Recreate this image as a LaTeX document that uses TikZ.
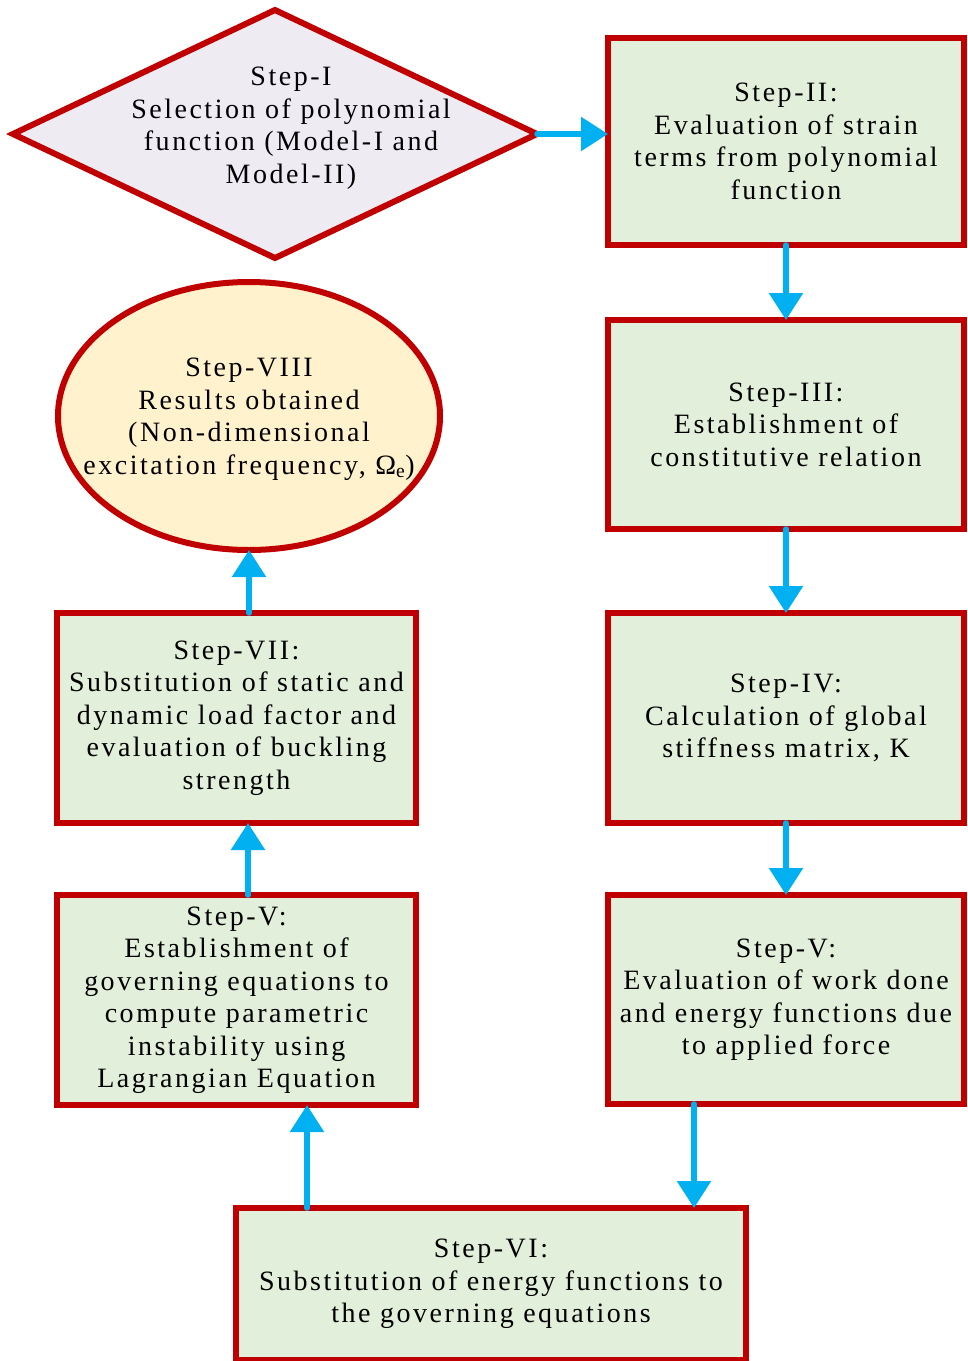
\documentclass[tikz,border=0pt]{standalone}
\usepackage{fontspec}
\setmainfont{Liberation Serif}[LetterSpace=9]
\usetikzlibrary{shapes.geometric,arrows.meta,calc}
\definecolor{bordercol}{HTML}{C00000}
\definecolor{boxfill}{HTML}{E2EFDA}
\definecolor{ellfill}{HTML}{FFF2CC}
\definecolor{diafill}{HTML}{EEEBF3}
\definecolor{arrcol}{HTML}{00B0F0}
\tikzset{
  stepbox/.style={rectangle, draw=bordercol, fill=boxfill, line width=6pt, inner sep=0pt, outer sep=0pt, align=center},
  stepell/.style={ellipse, draw=bordercol, fill=ellfill, line width=6pt, inner sep=0pt, outer sep=0pt, align=center},
  stepdia/.style={diamond, draw=bordercol, fill=diafill, line width=6pt, inner sep=0pt, outer sep=0pt},
  txt/.style={align=center, inner sep=0pt},
  arr/.style={draw=arrcol, line width=5.5pt, line cap=round, -{Triangle[width=33pt,length=27pt]}}
}
\begin{document}
\begin{tikzpicture}[x=1pt,y=-1pt, font=\fontsize{28}{32.5}\selectfont]
\useasboundingbox (0,0) rectangle (968,1361);
% nodes
\node[stepdia, minimum width=524pt, minimum height=248pt] (s1) at (275,134) {};
\node[txt] (s1t) at (291,128) {Step-I\\Selection of polynomial\\function (Model-I and\\Model-II)};
\node[stepbox, minimum width=356pt, minimum height=207pt] (s2) at (786,141.5) {Step-II:\\Evaluation of strain\\terms from polynomial\\function};
\node[stepbox, minimum width=356pt, minimum height=209pt] (s3) at (786,424.5) {Step-III:\\Establishment of\\constitutive relation};
\node[stepbox, minimum width=356pt, minimum height=210pt] (s4) at (786,718) {Step-IV:\\Calculation of global\\stiffness matrix, K};
\node[stepbox, minimum width=356pt, minimum height=209pt] (s5r) at (786,999.5) {Step-V:\\Evaluation of work done\\and energy functions due\\to applied force};
\node[stepbox, minimum width=510pt, minimum height=152pt] (s6) at (491,1284) {Step-VI:\\Substitution of energy functions to\\the governing equations};
\node[stepbox, minimum width=359pt, minimum height=210pt] (s5l) at (236.5,1000) {Step-V:\\Establishment of\\governing equations to\\compute parametric\\instability using\\Lagrangian Equation};
\node[stepbox, minimum width=359pt, minimum height=210pt] (s7) at (236.5,718) {Step-VII:\\Substitution of static and\\dynamic load factor and\\evaluation of buckling\\strength};
\node[stepell, minimum width=382pt, minimum height=268pt] (s8) at (249,416) {};
\node[txt] (s8t) at (249,419) {Step-VIII\\Results obtained\\(Non-dimensional\\excitation frequency, Ω\textsubscript{e})};
% connectors
\draw[arr] (s1.east) -- (s2.west |- s1.east);
\draw[arr] (s2.south) -- (s3.north);
\draw[arr] (s3.south) -- (s4.north);
\draw[arr] (s4.south) -- (s5r.north);
\draw[arr] ([xshift=86pt]s5r.south west) -- ([xshift=86pt]s5r.south west |- s6.north);
\draw[arr] ([xshift=71pt]s6.north west) -- ([xshift=71pt]s6.north west |- s5l.south);
\draw[arr] ([xshift=11.5pt]s5l.north) -- ([xshift=11.5pt]s5l.north |- s7.south);
\draw[arr] (s8.south |- s7.north) -- (s8.south);
\end{tikzpicture}
\end{document}
